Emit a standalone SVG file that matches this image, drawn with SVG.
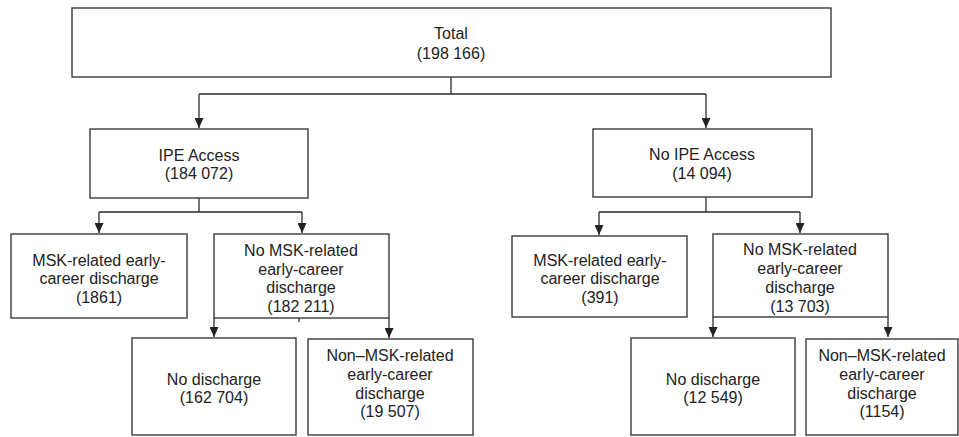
<svg xmlns="http://www.w3.org/2000/svg" width="959" height="437" viewBox="0 0 959 437">
<style>
.box{fill:#fff;stroke:#3a3a3a;stroke-width:1.4}
.ln{fill:none;stroke:#2a2a2a;stroke-width:1.3}
text{font-family:"Liberation Sans",Arial,sans-serif;font-size:16px;fill:#222;text-anchor:middle;dominant-baseline:central}
</style>
<defs>
<marker id="ah" markerUnits="userSpaceOnUse" markerWidth="10" markerHeight="10" viewBox="0 0 10 10" refX="5" refY="10" orient="auto-start-reverse">
<path d="M0,0 L10,0 L5,10 Z" fill="#222" transform="rotate(-90 5 5)"/>
</marker>
<marker id="ad" markerUnits="userSpaceOnUse" markerWidth="9" markerHeight="10" viewBox="0 0 9 10" refX="4.5" refY="10" orient="0">
<path d="M0,0 L9,0 L4.5,10 Z" fill="#222"/>
</marker>
</defs>
<g id="connectors">
<path class="ln" d="M451,77 V94"/>
<path class="ln" d="M199,94 H706"/>
<path class="ln" d="M199,94 V128" marker-end="url(#ad)"/>
<path class="ln" d="M706,94 V128" marker-end="url(#ad)"/>
<path class="ln" d="M199,198 V212"/>
<path class="ln" d="M99,212 H302"/>
<path class="ln" d="M99,212 V233" marker-end="url(#ad)"/>
<path class="ln" d="M302,212 V233" marker-end="url(#ad)"/>
<path class="ln" d="M706,197 V212"/>
<path class="ln" d="M599,212 H800"/>
<path class="ln" d="M599,212 V235" marker-end="url(#ad)"/>
<path class="ln" d="M800,212 V233" marker-end="url(#ad)"/>
<path class="ln" d="M214,318 V337" marker-end="url(#ad)"/>
<path class="ln" d="M389,318 V338" marker-end="url(#ad)"/>
<path class="ln" d="M299,309 V322"/>
<path class="ln" d="M713,317 V337" marker-end="url(#ad)"/>
<path class="ln" d="M888,317 V337" marker-end="url(#ad)"/>
</g>
<g id="total">
<rect class="box" x="72" y="8" width="759" height="69"/>
<text x="451" y="33">Total</text>
<text x="451" y="53">(198 166)</text>
</g>
<g id="ipe">
<rect class="box" x="90" y="129" width="218" height="69"/>
<text x="199" y="155">IPE Access</text>
<text x="199" y="173">(184 072)</text>
</g>
<g id="noipe">
<rect class="box" x="593" y="129" width="219" height="68"/>
<text x="702" y="154">No IPE Access</text>
<text x="702" y="173">(14 094)</text>
</g>
<g id="ipe-msk">
<rect class="box" x="11" y="234" width="176" height="84"/>
<text x="99" y="260">MSK-related early-</text>
<text x="99" y="278">career discharge</text>
<text x="99" y="297">(1861)</text>
</g>
<g id="ipe-nomsk">
<rect class="box" x="214" y="234" width="175" height="84"/>
<text x="301" y="250">No MSK-related</text>
<text x="301" y="269">early-career</text>
<text x="301" y="287">discharge</text>
<text x="301" y="306">(182 211)</text>
</g>
<g id="noipe-msk">
<rect class="box" x="512" y="236" width="175" height="81"/>
<text x="600" y="260">MSK-related early-</text>
<text x="600" y="278">career discharge</text>
<text x="600" y="297">(391)</text>
</g>
<g id="noipe-nomsk">
<rect class="box" x="713" y="234" width="175" height="83"/>
<text x="800" y="249">No MSK-related</text>
<text x="800" y="268">early-career</text>
<text x="800" y="287">discharge</text>
<text x="800" y="306">(13 703)</text>
</g>
<g id="ipe-nodis">
<rect class="box" x="132" y="338" width="164" height="97"/>
<text x="214" y="379">No discharge</text>
<text x="214" y="397">(162 704)</text>
</g>
<g id="ipe-nonmsk">
<rect class="box" x="308" y="339" width="165" height="96"/>
<text x="390" y="355">Non–MSK-related</text>
<text x="390" y="374">early-career</text>
<text x="390" y="393">discharge</text>
<text x="390" y="411">(19 507)</text>
</g>
<g id="noipe-nodis">
<rect class="box" x="631" y="338" width="164" height="97"/>
<text x="713" y="379">No discharge</text>
<text x="713" y="397">(12 549)</text>
</g>
<g id="noipe-nonmsk">
<rect class="box" x="806" y="339" width="152" height="96"/>
<text x="882" y="355">Non–MSK-related</text>
<text x="882" y="374">early-career</text>
<text x="882" y="393">discharge</text>
<text x="882" y="411">(1154)</text>
</g>
</svg>
